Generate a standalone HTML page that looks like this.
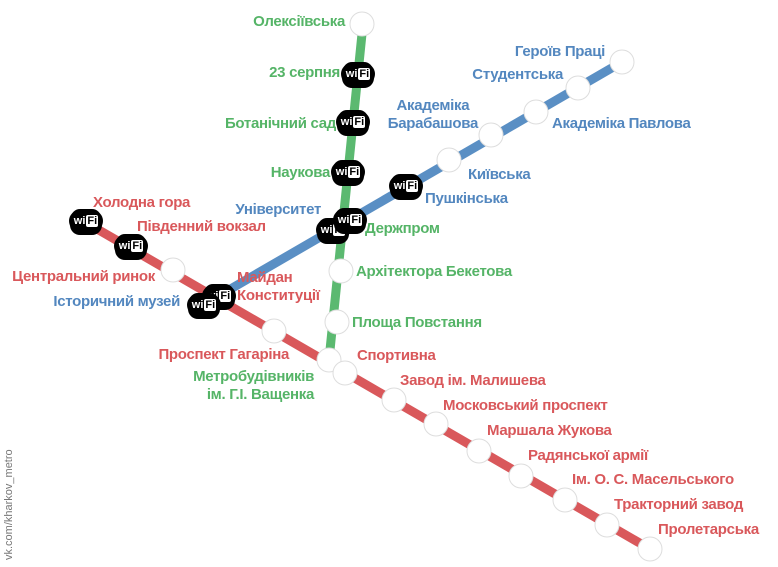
<!DOCTYPE html>
<html><head><meta charset="utf-8"><style>
body{margin:0;width:778px;height:567px;background:#fff;position:relative;overflow:hidden;font-family:"Liberation Sans",sans-serif;font-weight:bold;font-size:15px;letter-spacing:-0.3px}
.l{position:absolute;white-space:nowrap;line-height:18px;transform:translateY(-50%)}
.r{color:#d9585b}.g{color:#55b467}.b{color:#5387bf}
.ra{transform:translate(-100%,-50%);text-align:right}
.w{position:absolute;width:34px;height:22px;background:#000;border-radius:11px;color:#fff;font-family:"Liberation Sans",sans-serif;font-size:11px;line-height:22px;text-align:center;transform:translate(-50%,-50%);box-shadow:0 4px 0 -1px #000,0 -3px 0 -2px #000;letter-spacing:0}
.w span{background:#fff;color:#000;border-radius:2px;padding:0 1px;margin-left:1px}
</style></head><body>
<svg width="778" height="567" style="position:absolute;left:0;top:0">
<g stroke-linecap="round" stroke-width="9">
<line x1="85" y1="222" x2="650" y2="549" stroke="#d9585b"/>
<line x1="363" y1="24" x2="329" y2="360" stroke="#5bb970"/>
<line x1="622" y1="62" x2="215" y2="298" stroke="#5a8fc4"/>
</g>
<g fill="#fff" stroke="#ddd" stroke-width="1">
<circle cx="362" cy="24" r="12"/>
<circle cx="341" cy="271" r="12"/><circle cx="337" cy="322" r="12"/><circle cx="329" cy="360" r="12"/>
<circle cx="622" cy="62" r="12"/><circle cx="578" cy="88" r="12"/><circle cx="536" cy="112" r="12"/><circle cx="491" cy="135" r="12"/><circle cx="449" cy="160" r="12"/>
<circle cx="173" cy="270" r="12"/><circle cx="274" cy="331" r="12"/><circle cx="345" cy="373" r="12"/><circle cx="394" cy="400" r="12"/><circle cx="436" cy="424" r="12"/><circle cx="479" cy="451" r="12"/><circle cx="521" cy="476" r="12"/><circle cx="565" cy="500" r="12"/><circle cx="607" cy="525" r="12"/><circle cx="650" cy="549" r="12"/>
</g></svg>
<div class="w" style="left:358px;top:74px">wi<span>Fi</span></div>
<div class="w" style="left:353px;top:122px">wi<span>Fi</span></div>
<div class="w" style="left:348px;top:172px">wi<span>Fi</span></div>
<div class="w" style="left:333px;top:230px">wi<span>Fi</span></div>
<div class="w" style="left:350px;top:220px">wi<span>Fi</span></div>
<div class="w" style="left:406px;top:186px">wi<span>Fi</span></div>
<div class="w" style="left:86px;top:221px">wi<span>Fi</span></div>
<div class="w" style="left:131px;top:246px">wi<span>Fi</span></div>
<div class="w" style="left:219px;top:296px">wi<span>Fi</span></div>
<div class="w" style="left:204px;top:305px">wi<span>Fi</span></div>

<div class="l g ra" style="left:345px;top:22px">Олексіївська</div>
<div class="l g ra" style="left:340px;top:73px">23 серпня</div>
<div class="l g ra" style="left:336px;top:124px">Ботанічний сад</div>
<div class="l g ra" style="left:330px;top:173px">Наукова</div>
<div class="l g" style="left:365px;top:229px">Держпром</div>
<div class="l g" style="left:356px;top:272px">Архітектора Бекетова</div>
<div class="l g" style="left:352px;top:323px">Площа Повстання</div>
<div class="l g ra" style="left:314px;top:386px">Метробудівників<br>ім. Г.І. Ващенка</div>

<div class="l b ra" style="left:605px;top:52px">Героїв Праці</div>
<div class="l b ra" style="left:563px;top:75px">Студентська</div>
<div class="l b ra" style="left:478px;top:115px;text-align:center">Академіка<br>Барабашова</div>
<div class="l b" style="left:552px;top:124px">Академіка Павлова</div>
<div class="l b" style="left:468px;top:175px">Київська</div>
<div class="l b" style="left:425px;top:199px">Пушкінська</div>
<div class="l b ra" style="left:321px;top:210px">Університет</div>
<div class="l b ra" style="left:180px;top:302px">Історичний музей</div>

<div class="l r" style="left:93px;top:203px">Холодна гора</div>
<div class="l r" style="left:137px;top:227px">Південний вокзал</div>
<div class="l r ra" style="left:155px;top:277px">Центральний ринок</div>
<div class="l r" style="left:237px;top:287px">Майдан<br>Конституції</div>
<div class="l r ra" style="left:289px;top:355px">Проспект Гагаріна</div>
<div class="l r" style="left:357px;top:356px">Спортивна</div>
<div class="l r" style="left:400px;top:381px">Завод ім. Малишева</div>
<div class="l r" style="left:443px;top:406px">Московський проспект</div>
<div class="l r" style="left:487px;top:431px">Маршала Жукова</div>
<div class="l r" style="left:528px;top:456px">Радянської армії</div>
<div class="l r" style="left:572px;top:480px">Ім. О. С. Масельського</div>
<div class="l r" style="left:614px;top:505px">Тракторний завод</div>
<div class="l r" style="left:658px;top:530px">Пролетарська</div>

<div style="position:absolute;left:3px;top:560px;transform-origin:0 0;transform:rotate(-90deg);font-family:'Liberation Sans',sans-serif;font-weight:normal;font-size:11px;color:#777;white-space:nowrap;letter-spacing:0">vk.com/kharkov_metro</div>
</body></html>
